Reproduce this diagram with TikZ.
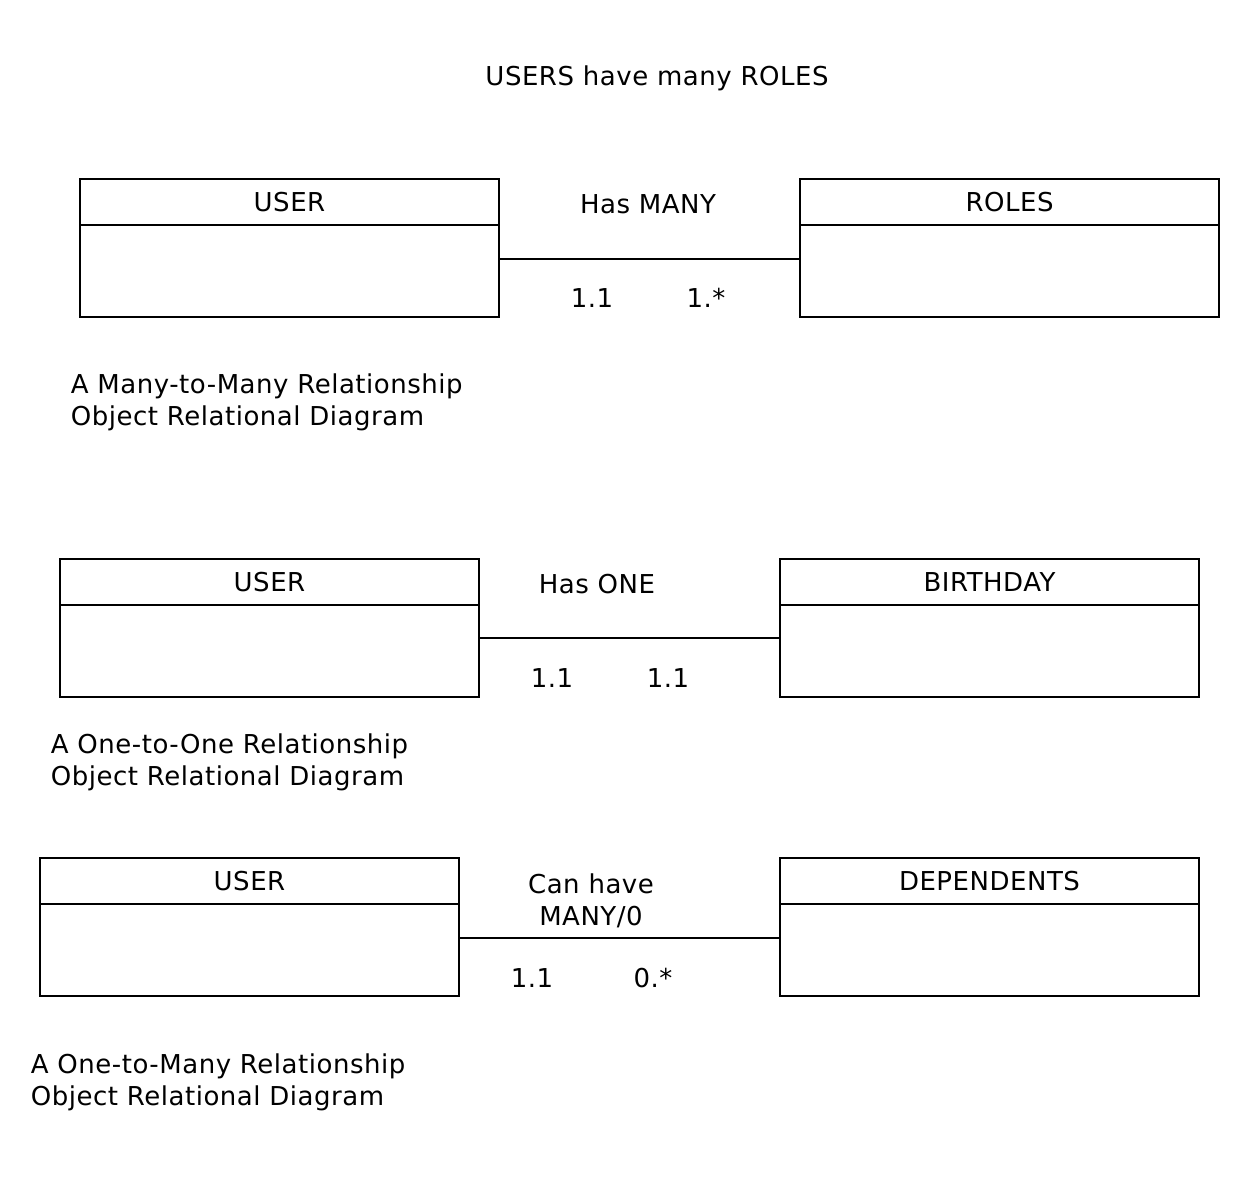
\documentclass[tikz,border=0pt]{standalone}
\usepackage{fontspec}
\setmainfont{DejaVu Sans}[LetterSpace=2]
\begin{document}
\begin{tikzpicture}[x=1pt,y=-1pt,line width=1.8pt,
  txt/.style={font=\fontsize{26}{32}\selectfont},
  hdr/.style={txt,draw,minimum width=419pt,minimum height=46pt,inner sep=0pt,outer sep=0pt,anchor=north west,text height=19pt,text depth=0pt},
  bdy/.style={draw,minimum width=419pt,minimum height=92pt,inner sep=0pt,outer sep=0pt,anchor=north west},
  lbl/.style={txt,anchor=base,inner sep=0pt},
  captxt/.style={txt,anchor=base west,inner sep=0pt,align=left}]
\fill[white] (0,0) rectangle (1252,1176);
\useasboundingbox (0,0) rectangle (1252,1176);
\node[lbl] (title) at (657,85) {USERS have many ROLES};
% Row 1
\node[hdr] (u1h) at (80,179) {USER};
\node[bdy] (u1b) at (u1h.south west) {};
\node[hdr] (r1h) at (800,179) {ROLES};
\node[bdy] (r1b) at (r1h.south west) {};
\draw ([yshift=12pt]u1b.east) -- ([yshift=12pt]r1b.west);
\node[lbl] (rel1) at (648,213) {Has MANY};
\node[lbl] (m1a) at (592,307) {1.1};
\node[lbl] (m1b) at (706,307) {1.*};
\node[captxt] (c1) at (70,425) {A Many-to-Many Relationship\\Object Relational Diagram};
% Row 2
\node[hdr] (u2h) at (60,559) {USER};
\node[bdy] (u2b) at (u2h.south west) {};
\node[hdr] (b2h) at (780,559) {BIRTHDAY};
\node[bdy] (b2b) at (b2h.south west) {};
\draw ([yshift=13pt]u2b.east) -- ([yshift=13pt]b2b.west);
\node[lbl] (rel2) at (597,593) {Has ONE};
\node[lbl] (m2a) at (552,687) {1.1};
\node[lbl] (m2b) at (668,687) {1.1};
\node[captxt] (c2) at (50,785) {A One-to-One Relationship\\Object Relational Diagram};
% Row 3
\node[hdr] (u3h) at (40,858) {USER};
\node[bdy] (u3b) at (u3h.south west) {};
\node[hdr] (d3h) at (780,858) {DEPENDENTS};
\node[bdy] (d3b) at (d3h.south west) {};
\draw ([yshift=12pt]u3b.east) -- ([yshift=12pt]d3b.west);
\node[txt,anchor=base,inner sep=0pt,align=center] (rel3) at (591,925) {Can have\\MANY/0};
\node[lbl] (m3a) at (532,987) {1.1};
\node[lbl] (m3b) at (653,987) {0.*};
\node[captxt] (c3) at (30,1105) {A One-to-Many Relationship\\Object Relational Diagram};
\end{tikzpicture}
\end{document}
